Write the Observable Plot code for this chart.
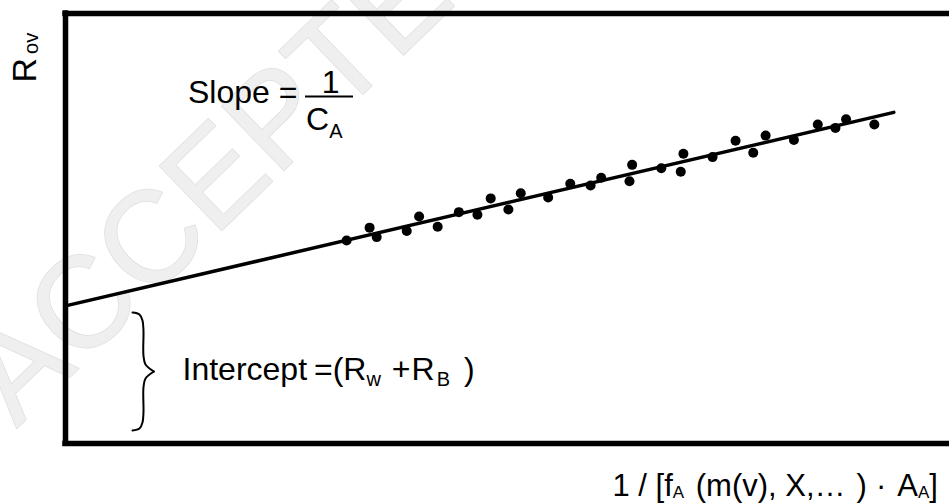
<!DOCTYPE html>
<html>
<head>
<meta charset="utf-8">
<script src="https://cdn.jsdelivr.net/npm/d3@7"></script>
<script src="https://cdn.jsdelivr.net/npm/@observablehq/plot@0.6"></script>
<style>
  html, body { margin: 0; padding: 0; background: #fff; }
  #chart svg { display: block; }
</style>
</head>
<body>
<div id="chart"></div>
<script>
// ---- data (abstract units: x over [0,10], y over [0,5]) ----
const xDomain = [0, 10];
const yDomain = [0, 5];

const pointX = [3.18, 3.44, 3.52, 3.86, 4.00, 4.21, 4.45, 4.66, 4.81, 5.01, 5.15, 5.46, 5.71, 5.94, 6.06,
                6.38, 6.41, 6.74, 6.96, 6.99, 7.32, 7.58, 7.78, 7.92, 8.24, 8.51, 8.71, 8.83, 9.15];
const pointY = [2.36, 2.51, 2.40, 2.47, 2.64, 2.52, 2.69, 2.66, 2.85, 2.72, 2.91, 2.86, 3.02, 3.00, 3.09,
                3.05, 3.24, 3.20, 3.16, 3.37, 3.33, 3.52, 3.38, 3.58, 3.53, 3.71, 3.67, 3.77, 3.71];

const fitX = [0, 9.37];
const fitY = [1.60, 3.85];

// brace "}" beside the intercept
const braceX = [0.758, 0.837, 0.871, 0.882, 0.882, 0.905, 1.0,   1.0, 0.905, 0.882, 0.882, 0.871, 0.837, 0.758];
const braceY = [1.523, 1.500, 1.430, 1.314, 1.023, 0.919, 0.837, 0.837, 0.756, 0.651, 0.360, 0.244, 0.174, 0.151];
const braceZ = ["top", "top", "top", "top", "top", "top", "top", "bot", "bot", "bot", "bot", "bot", "bot", "bot"];

// texts ("_{..}" = subscript, "~n~" = extra gap of n px)
const yLabel = "R~4~_{ov}";
const xLabel = "1 / [f_{A}~3~ (m(v), X,…~11~)~9~·~11~A_{A}]";
const slopeText = "Slope =";
const slopeNum = "1";
const slopeDen = "C_{A}";
const interceptText = "Intercept ~-2~=(R_{w}~11~+~1~R~2~_{B}~14~)";
const watermark = "ACCEPTED";

// annotation anchors (data units)
const labelNames = ["yLabel", "xLabel", "slope", "num", "den", "intercept", "watermark"];
const labelX = [-0.339, 6.188, 1.386, 2.998, 2.721, 1.324, -0.554];
const labelY = [4.198, -0.616, 3.965, 4.081, 3.651, 0.744, 0.174];
const fracBarX = [2.715, 3.258];
const fracBarY = [4.035];

// ---- build ----
const points = pointX.map((x, i) => ({x, y: pointY[i]}));
const fit = fitX.map((x, i) => ({x, y: fitY[i]}));
const brace = braceX.map((x, i) => ({x, y: braceY[i], z: braceZ[i]}));
const L = Object.fromEntries(labelNames.map((n, i) => [n, {x: labelX[i], y: labelY[i]}]));

const sans = "'Liberation Sans', Arial, Helvetica, sans-serif";

const richSpecs = [
  {text: yLabel, subSize: 20, subShift: 2},
  {text: xLabel, subSize: 17, subShift: 2},
  {text: slopeDen, subSize: 20, subShift: 8},
  {text: interceptText, subSize: 20, subShift: 6}
];

const chart = Plot.plot({
  width: 949,
  height: 504,
  marginLeft: 65,
  marginRight: 0,
  marginTop: 13,
  marginBottom: 61,
  x: {domain: xDomain, axis: null},
  y: {domain: yDomain, axis: null},
  style: {background: "white", fontFamily: sans},
  marks: [
    Plot.text([watermark], {x: () => L.watermark.x, y: () => L.watermark.y, text: d => d, rotate: -44,
      fontSize: 130, fontFamily: sans, fill: "#efefef", stroke: "#dedede", strokeWidth: 1.5,
      textAnchor: "start", lineAnchor: "bottom"}),
    Plot.ruleY(yDomain, {stroke: "black", strokeWidth: 5.5, strokeLinecap: "square"}),
    Plot.ruleX([xDomain[0]], {stroke: "black", strokeWidth: 5.5, strokeLinecap: "square"}),
    Plot.line(fit, {x: "x", y: "y", stroke: "black", strokeWidth: 3.5}),
    Plot.dot(points, {x: "x", y: "y", r: 5, fill: "black"}),
    Plot.line(brace, {x: "x", y: "y", z: "z", curve: "catmull-rom", stroke: "black", strokeWidth: 2}),
    Plot.ruleY(fracBarY, {x1: fracBarX[0], x2: fracBarX[1], stroke: "black", strokeWidth: 2}),
    Plot.text([yLabel], {x: () => L.yLabel.x, y: () => L.yLabel.y, text: d => d, rotate: -90,
      fontSize: 34, fontFamily: sans, fill: "black", textAnchor: "start", lineAnchor: "bottom"}),
    Plot.text([xLabel], {x: () => L.xLabel.x, y: () => L.xLabel.y, text: d => d,
      fontSize: 31, fontFamily: sans, fill: "black", textAnchor: "start", lineAnchor: "bottom"}),
    Plot.text([slopeText], {x: () => L.slope.x, y: () => L.slope.y, text: d => d,
      fontSize: 32, fontFamily: sans, fill: "black", textAnchor: "start", lineAnchor: "bottom"}),
    Plot.text([slopeNum], {x: () => L.num.x, y: () => L.num.y, text: d => d,
      fontSize: 32, fontFamily: sans, fill: "black", textAnchor: "middle", lineAnchor: "bottom"}),
    Plot.text([slopeDen], {x: () => L.den.x, y: () => L.den.y, text: d => d,
      fontSize: 32, fontFamily: sans, fill: "black", textAnchor: "start", lineAnchor: "bottom"}),
    Plot.text([interceptText], {x: () => L.intercept.x, y: () => L.intercept.y, text: d => d,
      fontSize: 32, fontFamily: sans, fill: "black", textAnchor: "start", lineAnchor: "bottom"})
  ]
});

document.getElementById("chart").appendChild(chart);

// turn "_{..}" into subscripts and "~n~" into extra horizontal gaps
function richify(root, specs) {
  const NS = "http://www.w3.org/2000/svg";
  root.querySelectorAll("text").forEach(el => {
    const raw = el.textContent;
    const spec = specs.find(s => s.text === raw);
    if (!spec) return;
    el.textContent = "";
    el.style.whiteSpace = "pre";
    let shift = 0, dx = 0, m;
    const re = /_\{([^}]*)\}|~(-?\d+)~|([^_~]+)/g;
    while ((m = re.exec(raw))) {
      if (m[2] !== undefined) { dx += +m[2]; continue; }
      const ts = document.createElementNS(NS, "tspan");
      if (m[1] !== undefined) {
        ts.textContent = m[1];
        ts.setAttribute("font-size", spec.subSize);
        const d = spec.subShift - shift;
        if (d) ts.setAttribute("dy", d);
        shift = spec.subShift;
      } else {
        ts.textContent = m[3];
        if (shift) ts.setAttribute("dy", -shift);
        shift = 0;
      }
      if (dx) ts.setAttribute("dx", dx);
      dx = 0;
      el.appendChild(ts);
    }
  });
}
richify(chart, richSpecs);
</script>
</body>
</html>
